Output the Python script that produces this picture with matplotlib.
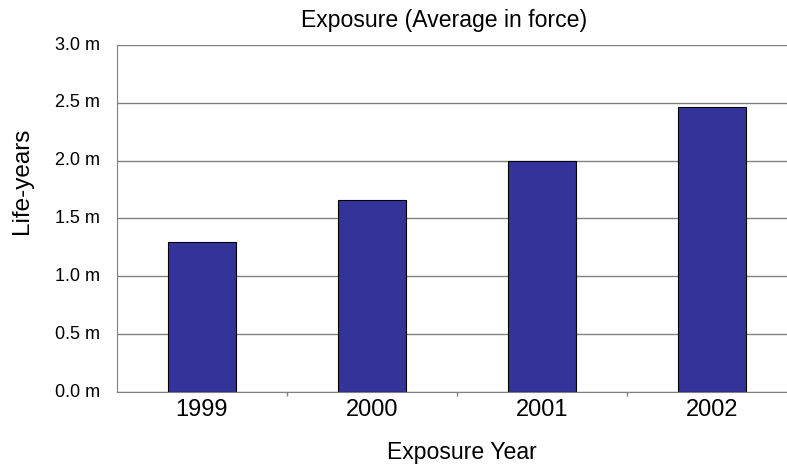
import matplotlib
matplotlib.use("Agg")
import matplotlib.pyplot as plt
import numpy as np

years = ["1999", "2000", "2001", "2002"]
exposure = [1.30, 1.66, 2.00, 2.46]
yticks = [0.0, 0.5, 1.0, 1.5, 2.0, 2.5, 3.0]
ytick_labels = ["0.0 m", "0.5 m", "1.0 m", "1.5 m", "2.0 m", "2.5 m", "3.0 m"]

plt.rcParams['font.family'] = ['Liberation Sans', 'DejaVu Sans']

fig = plt.figure(figsize=(7.87, 4.69), dpi=100)
ax = fig.add_axes([117/787, 77/469, 680/787, 347/469])

x = np.arange(len(years))
ax.bar(x, exposure, width=0.4, color="#333399", edgecolor="black", linewidth=0.8, zorder=3)

ax.set_xlim(-0.5, 3.5)
ax.set_ylim(0, 3.0)
ax.set_yticks(yticks)
ax.set_yticklabels([])
for v, lab in zip(yticks, ytick_labels):
    ax.text(-17/680, v, lab, transform=ax.get_yaxis_transform(), ha="right", va="center", fontsize=13)
ax.set_xticks(x)
ax.set_xticklabels([])
for xi, lab in zip(x, years):
    fig.text((117 + 85 + 170*xi)/787, 1 - 410/469, lab, ha="center", va="center", fontsize=17)
ax.set_xticks([0.5, 1.5, 2.5], minor=True)
ax.tick_params(axis='x', which='major', length=0)
ax.tick_params(axis='x', which='minor', length=3, color="#808080", width=1)
ax.tick_params(axis='y', length=0)

ax.grid(axis='y', color="#808080", linewidth=1, zorder=0)
for s in ["top", "right"]:
    ax.spines[s].set_visible(False)
ax.spines["left"].set_color("#808080")
ax.spines["bottom"].set_color("#808080")

fig.text(461.5/787, 1 - 452/469, "Exposure Year", ha="center", va="center", fontsize=16.6)
fig.text(22/787, 1 - 181/469, "Life-years", ha="center", va="center", rotation=90, fontsize=17.5)
fig.text(444.5/787, 1 - 20/469, "Exposure (Average in force)", ha="center", va="center", fontsize=16.6)

fig.savefig("out.png", dpi=100)
